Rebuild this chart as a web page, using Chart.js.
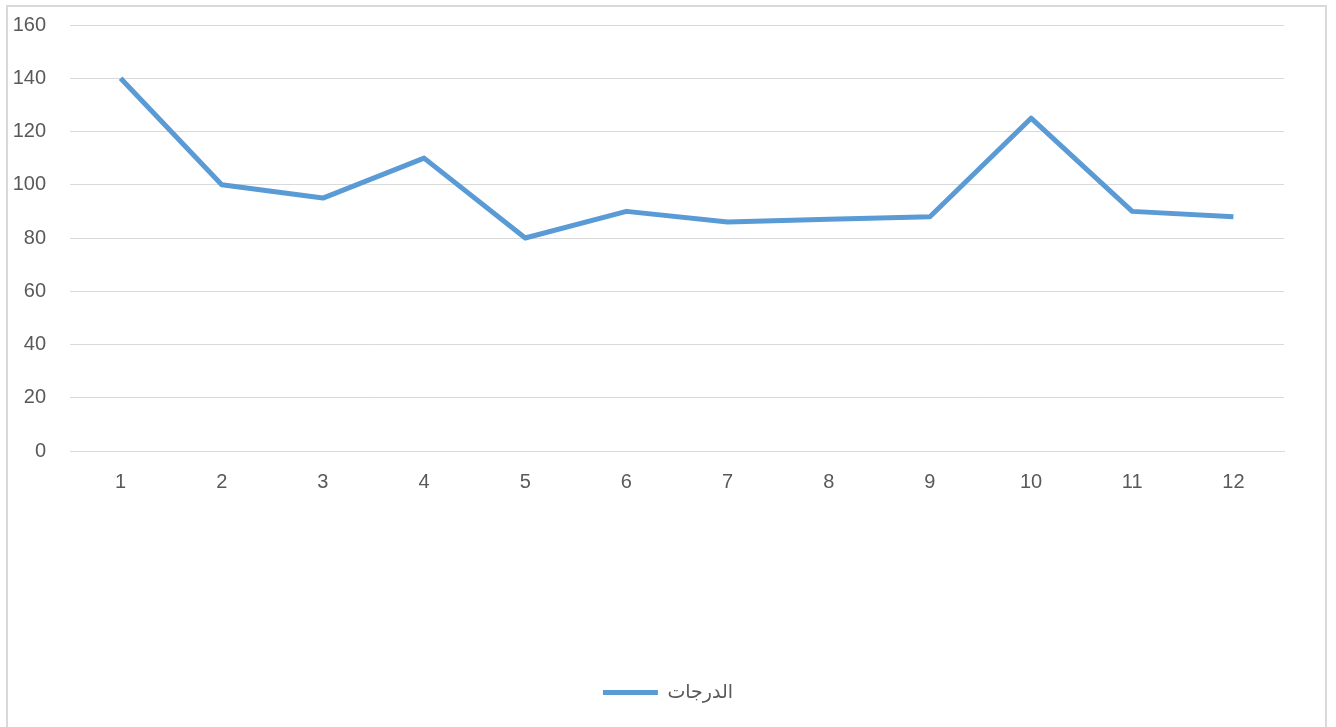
<!DOCTYPE html>
<html>
<head>
<meta charset="utf-8">
<script src="https://cdn.jsdelivr.net/npm/chart.js@4.4.0/dist/chart.umd.min.js"></script>
<style>
  html, body { margin: 0; padding: 0; background: #fff; }
</style>
</head>
<body>
<canvas id="lineChart" width="1336" height="727"></canvas>
<script>
// data
const labels = ['1', '2', '3', '4', '5', '6', '7', '8', '9', '10', '11', '12'];
const grades = [140, 100, 95, 110, 80, 90, 86, 87, 88, 125, 90, 88];
const seriesName = 'الدرجات';
const yTicks = [0, 20, 40, 60, 80, 100, 120, 140, 160];

const FONT = '"Liberation Sans", "DejaVu Sans", Arial, sans-serif';

// light gray frame round the whole chart
const frame = {
  id: 'frame',
  beforeDraw(chart) {
    const c = chart.ctx;
    c.save();
    c.strokeStyle = '#d9d9d9';
    c.lineWidth = 2;
    c.strokeRect(7, 6, 1319, 740);
    c.restore();
  }
};

new Chart(document.getElementById('lineChart').getContext('2d'), {
  type: 'line',
  data: {
    labels,
    datasets: [{
      label: seriesName,
      data: grades,
      borderColor: '#5b9bd5',
      backgroundColor: '#5b9bd5',
      borderWidth: 5,
      pointRadius: 0,
      tension: 0,
      borderJoinStyle: 'round'
    }]
  },
  options: {
    responsive: false,
    animation: false,
    layout: { padding: { top: 25, right: 0, bottom: 15, left: 0 } },
    scales: {
      x: {
        offset: true,
        grid: { display: false, drawTicks: false },
        border: { color: '#d9d9d9', width: 1 },
        ticks: { color: '#595959', font: { family: FONT, size: 20 }, padding: 19, maxRotation: 0 },
        afterFit(scale) { scale.height = 222; }
      },
      y: {
        min: 0,
        max: 160,
        afterBuildTicks(scale) { scale.ticks = yTicks.map(v => ({ value: v })); },
        grid: { color: '#d9d9d9', lineWidth: 1, drawTicks: false },
        border: { display: false },
        ticks: { color: '#595959', font: { family: FONT, size: 20 }, padding: 24 },
        afterFit(scale) {
          scale.width = 70;
          scale.paddingTop = 0;
          scale.paddingBottom = 0;
        }
      },
      // empty right margin so the legend centres on the full width
      pad: {
        position: 'right',
        grid: { display: false, drawTicks: false },
        border: { display: false },
        ticks: { display: false },
        afterFit(scale) {
          scale.width = 52;
          scale.paddingTop = 0;
          scale.paddingBottom = 0;
        }
      }
    },
    plugins: {
      legend: {
        position: 'bottom',
        labels: {
          boxWidth: 55,
          boxHeight: 5,
          color: '#595959',
          font: { family: FONT, size: 19 },
          generateLabels(chart) {
            return Chart.defaults.plugins.legend.labels.generateLabels(chart)
              .map(l => ({ ...l, lineWidth: 0, fillStyle: '#5b9bd5' }));
          }
        }
      },
      tooltip: { enabled: false }
    }
  },
  plugins: [frame]
});
</script>
</body>
</html>
